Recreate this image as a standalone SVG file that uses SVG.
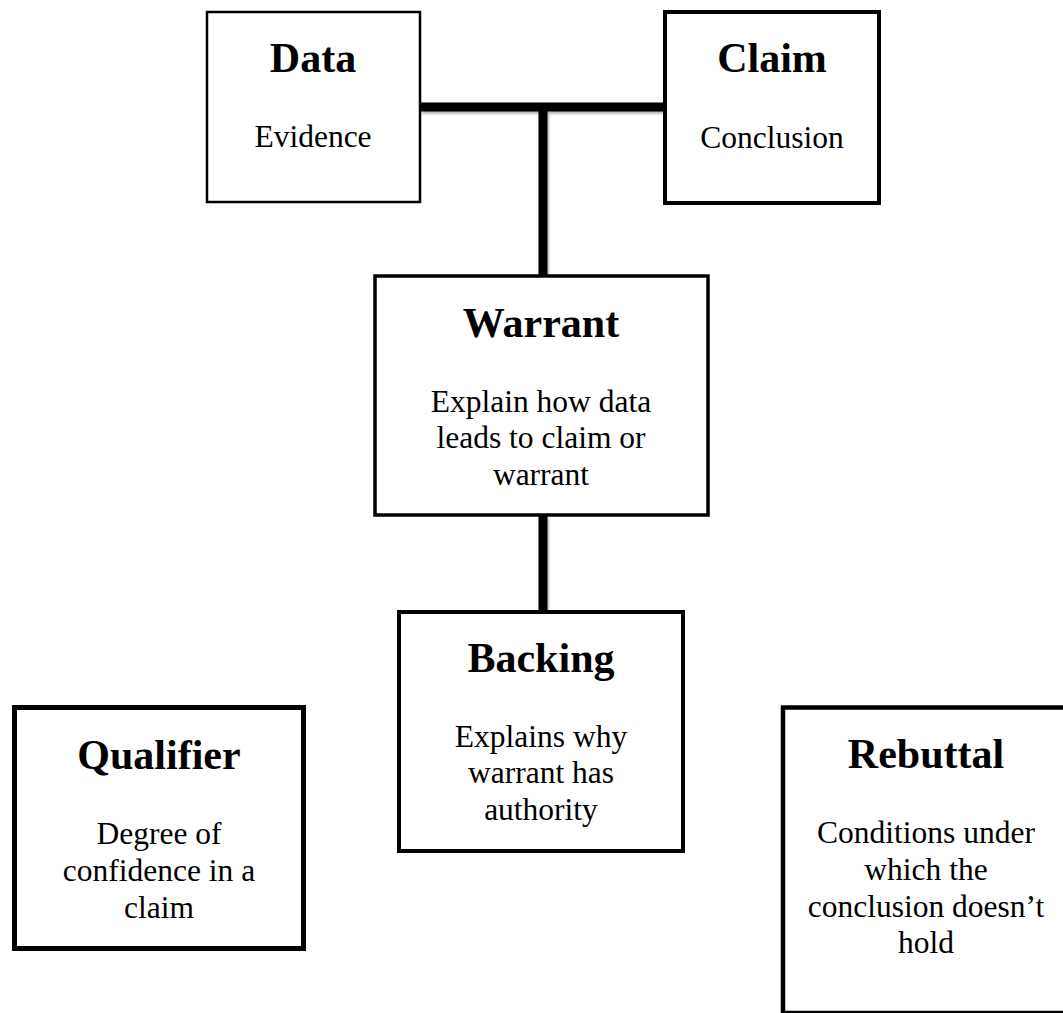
<svg xmlns="http://www.w3.org/2000/svg" width="1063" height="1013" viewBox="0 0 1063 1013">
<style>
.box{fill:#fff;stroke:#000}
.t{font-family:"Liberation Serif","Times New Roman",serif;font-weight:bold;font-size:42px;text-anchor:middle;fill:#000}
.b{font-family:"Liberation Serif","Times New Roman",serif;font-size:31.5px;text-anchor:middle;fill:#000}
.c{stroke:#000;stroke-width:9;fill:none}
</style>
<defs>
<filter id="sh" x="-20%" y="-20%" width="140%" height="140%">
<feDropShadow dx="1" dy="2" stdDeviation="1.5" flood-color="#000" flood-opacity="0.35"/>
</filter>
</defs>
<rect width="1063" height="1013" fill="#fff"/>
<g id="connectors" filter="url(#sh)">
<path class="c" d="M421 107 H663"/>
<path class="c" d="M543 107 V275"/>
<path class="c" d="M543 516 V611"/>
</g>
<g id="data">
<rect class="box" x="207" y="12" width="213" height="190" stroke-width="2.5"/>
<text class="t" x="313" y="72">Data</text>
<text class="b" x="313" y="147">Evidence</text>
</g>
<g id="claim">
<rect class="box" x="665" y="12" width="214" height="191" stroke-width="4"/>
<text class="t" x="772" y="72">Claim</text>
<text class="b" x="772" y="148">Conclusion</text>
</g>
<g id="warrant">
<rect class="box" x="375" y="276" width="333" height="239" stroke-width="3.5"/>
<text class="t" x="541" y="337">Warrant</text>
<text class="b" x="541" y="412">Explain how data</text>
<text class="b" x="541" y="448">leads to claim or</text>
<text class="b" x="541" y="485">warrant</text>
</g>
<g id="backing">
<rect class="box" x="399" y="612" width="284" height="239" stroke-width="4"/>
<text class="t" x="541" y="672">Backing</text>
<text class="b" x="541" y="747">Explains why</text>
<text class="b" x="541" y="783">warrant has</text>
<text class="b" x="541" y="820">authority</text>
</g>
<g id="qualifier">
<rect class="box" x="14.5" y="707.5" width="289" height="241" stroke-width="5"/>
<text class="t" x="159" y="769">Qualifier</text>
<text class="b" x="159" y="844">Degree of</text>
<text class="b" x="159" y="881">confidence in a</text>
<text class="b" x="159" y="918">claim</text>
</g>
<g id="rebuttal">
<rect class="box" x="783" y="707.5" width="286" height="305.5" stroke-width="4.5"/>
<text class="t" x="926" y="768">Rebuttal</text>
<text class="b" x="926" y="843">Conditions under</text>
<text class="b" x="926" y="880">which the</text>
<text class="b" x="926" y="917">conclusion doesn’t</text>
<text class="b" x="926" y="953">hold</text>
</g>
</svg>
